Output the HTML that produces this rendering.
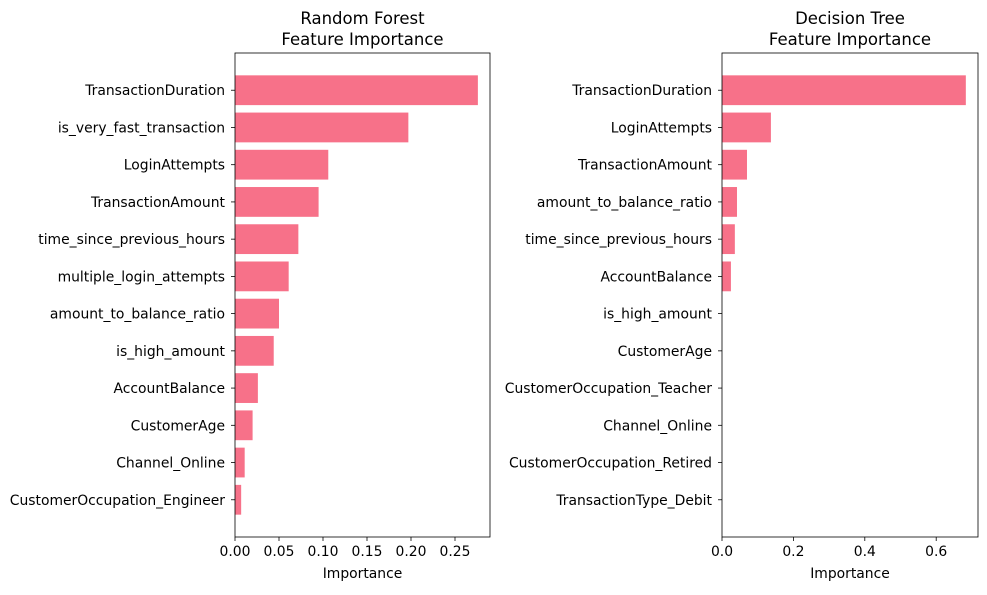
<!DOCTYPE html>
<html><head><meta charset="utf-8"><style>
body{margin:0;background:#fff;}
svg text{font-family:"DejaVu Sans","Liberation Sans",sans-serif;fill:#000;}
</style></head><body>
<svg id="chart" width="987" height="590" viewBox="0 0 987 590" xmlns="http://www.w3.org/2000/svg"></svg>
<script>
const rfFeatures=["TransactionDuration","is_very_fast_transaction","LoginAttempts","TransactionAmount","time_since_previous_hours","multiple_login_attempts","amount_to_balance_ratio","is_high_amount","AccountBalance","CustomerAge","Channel_Online","CustomerOccupation_Engineer"];
const rfValues=[0.276,0.197,0.106,0.095,0.072,0.061,0.050,0.044,0.026,0.020,0.011,0.007];
const rfTicks=[0,0.05,0.10,0.15,0.20,0.25];
const rfTickLabels=["0.00","0.05","0.10","0.15","0.20","0.25"];
const dtFeatures=["TransactionDuration","LoginAttempts","TransactionAmount","amount_to_balance_ratio","time_since_previous_hours","AccountBalance","is_high_amount","CustomerAge","CustomerOccupation_Teacher","Channel_Online","CustomerOccupation_Retired","TransactionType_Debit"];
const dtValues=[0.683,0.137,0.070,0.042,0.036,0.025,0,0,0,0,0,0];
const dtTicks=[0,0.2,0.4,0.6];
const dtTickLabels=["0.0","0.2","0.4","0.6"];

const svg=document.getElementById('chart');
const NS="http://www.w3.org/2000/svg";
function mk(tag,attrs,parent){const e=document.createElementNS(NS,tag);for(const k in attrs)e.setAttribute(k,attrs[k]);(parent||svg).appendChild(e);return e;}

function panel(key,x0,x1,y0,y1,xmax,features,values,ticks,tickLabels,title1,title2){
  const g=mk('g',{});
  
  
  const xs=v=>x0+(v/xmax)*(x1-x0);
  const n=features.length;
  const step=(y1-y0)/(n+1);
  const yc=i=>y0+step*(i+1);
  values.forEach((v,i)=>{
    const r=mk('rect',{x:xs(0),y:yc(i)-0.4*step,width:Math.max(0,xs(v)-xs(0)),height:0.8*step,fill:'#f77189'},g);
    
    
    mk('line',{x1:x0-4,x2:x0,y1:yc(i),y2:yc(i),stroke:'#000','stroke-width':0.8},g);
    const t=mk('text',{x:x0-10,y:yc(i)+5,'text-anchor':'end','font-size':13.9},g);
    t.textContent=features[i];
    
    
  });
  ticks.forEach((v,i)=>{
    mk('line',{x1:xs(v),x2:xs(v),y1:y1,y2:y1+4,stroke:'#000','stroke-width':0.8},g);
    const t=mk('text',{x:xs(v),y:y1+19,'text-anchor':'middle','font-size':13.9},g);
    t.textContent=tickLabels[i];
    
    
  });
  const f=mk('rect',{x:x0,y:y0,width:x1-x0,height:y1-y0,fill:'none',stroke:'#000','stroke-width':0.8},g);
  
  
  const xl=mk('text',{x:(x0+x1)/2,y:y1+41,'text-anchor':'middle','font-size':13.9},g);
  xl.textContent='Importance';
  
  
  const t1=mk('text',{x:(x0+x1)/2,y:y0-29,'text-anchor':'middle','font-size':16.5},g);
  t1.textContent=title1;
  
  
  const t2=mk('text',{x:(x0+x1)/2,y:y0-8,'text-anchor':'middle','font-size':16.5},g);
  t2.textContent=title2;
  
  
}
panel('random-forest',235,490,53,537,(490-235)/880,rfFeatures,rfValues,rfTicks,rfTickLabels,'Random Forest','Feature Importance');
panel('decision-tree',722,978,53,537,(978-722)/357,dtFeatures,dtValues,dtTicks,dtTickLabels,'Decision Tree','Feature Importance');
</script>
</body></html>
